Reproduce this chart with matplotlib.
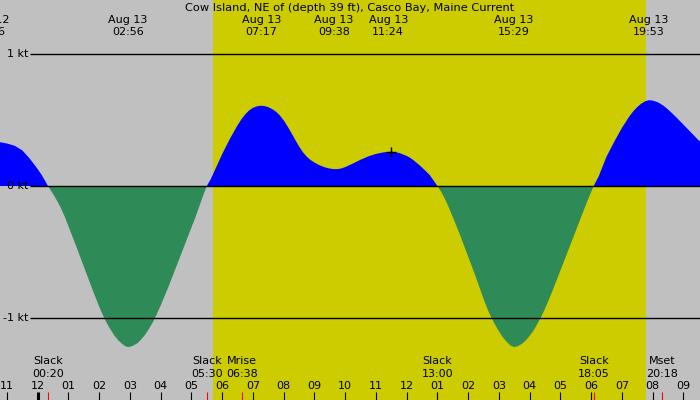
import matplotlib
matplotlib.use("Agg")
import matplotlib.pyplot as plt
import matplotlib.transforms as mtransforms
import numpy as np

# hours after midnight Aug 13, current speed in knots
hours = [-1.3, -1.0, -0.75, -0.5, -0.25, 0.0, 0.125, 0.25, 0.333,
         0.5, 0.625, 0.75, 0.875, 1.0, 1.25, 1.5, 1.75, 2.0, 2.125, 2.25, 2.375,
         2.5, 2.625, 2.75, 2.85, 2.933,
         3.0, 3.1, 3.25, 3.375, 3.5, 3.625, 3.75, 3.875, 4.0, 4.25, 4.5, 4.75,
         5.0, 5.125, 5.25, 5.375, 5.5,
         5.625, 5.75, 5.875, 6.0, 6.25, 6.5, 6.625, 6.75, 6.875, 7.0, 7.125,
         7.25, 7.375, 7.5, 7.625, 7.75, 7.875, 8.0, 8.125, 8.25, 8.375, 8.5,
         8.625, 8.75, 8.875, 9.0, 9.125, 9.25, 9.375, 9.5, 9.625, 9.75, 9.875,
         10.0, 10.25, 10.5, 10.75, 11.0, 11.25, 11.5, 11.75, 12.0, 12.125,
         12.25, 12.375, 12.5, 12.625, 12.75, 12.875, 13.0,
         13.125, 13.25, 13.375, 13.5, 13.75, 14.0, 14.25, 14.5, 14.625, 14.75,
         14.875, 15.0, 15.125, 15.25, 15.375, 15.483,
         15.6, 15.75, 15.875, 16.0, 16.125, 16.25, 16.375, 16.5, 16.75, 17.0,
         17.25, 17.5, 17.75, 17.875, 18.0, 18.083,
         18.25, 18.375, 18.5, 18.75, 19.0, 19.25, 19.375, 19.5, 19.625, 19.75,
         19.883, 20.0, 20.125, 20.25, 20.375, 20.5, 20.75, 21.0, 21.25, 21.5, 21.6]
speed = [0.335, 0.322, 0.305, 0.27, 0.205, 0.128, 0.085, 0.035, 0.0,
         -0.06, -0.11, -0.165, -0.23, -0.305, -0.455, -0.61, -0.765, -0.915, -0.98, -1.04, -1.09,
         -1.135, -1.17, -1.197, -1.214, -1.22,
         -1.218, -1.21, -1.19, -1.16, -1.125, -1.08, -1.03, -0.97, -0.905, -0.765, -0.615, -0.465,
         -0.315, -0.24, -0.158, -0.076, 0.0,
         0.05, 0.113, 0.178, 0.242, 0.357, 0.46, 0.505, 0.543, 0.572, 0.592, 0.603,
         0.608, 0.606, 0.597, 0.583, 0.563, 0.535, 0.498, 0.452, 0.402, 0.35, 0.3,
         0.256, 0.222, 0.197, 0.178, 0.162, 0.149, 0.139, 0.132, 0.128, 0.128, 0.133,
         0.143, 0.17, 0.199, 0.224, 0.243, 0.255, 0.26, 0.251, 0.228, 0.212,
         0.19, 0.166, 0.14, 0.112, 0.083, 0.042, 0.0,
         -0.045, -0.1, -0.165, -0.235, -0.38, -0.535, -0.69, -0.855, -0.93, -0.995,
         -1.05, -1.1, -1.145, -1.18, -1.208, -1.22,
         -1.215, -1.195, -1.17, -1.135, -1.095, -1.045, -0.99, -0.93, -0.79, -0.64,
         -0.49, -0.34, -0.19, -0.115, -0.045, 0.0,
         0.075, 0.15, 0.222, 0.335, 0.44, 0.53, 0.567, 0.598, 0.623, 0.641,
         0.65, 0.647, 0.638, 0.624, 0.604, 0.58, 0.525, 0.465, 0.405, 0.345, 0.325]

title = "Cow Island, NE of (depth 39 ft), Casco Bay, Maine Current"
top_days = ["Aug 12", "Aug 13", "Aug 13", "Aug 13", "Aug 13", "Aug 13", "Aug 13", "Aug 13"]
top_times = ["22:26", "02:56", "07:17", "09:38", "11:24", "15:29", "19:53", "22:10"]
bot_names = ["Slack", "Slack", "Mrise", "Slack", "Slack", "Mset"]
bot_times = ["00:20", "05:30", "06:38", "13:00", "18:05", "20:18"]
sunrise, sunset = "05:43", "19:47"
hour_ticks = list(range(-1, 22))
kt_levels = [1, 0, -1]
marker_pos = (11.5, 0.26)


def to_h(s, day="Aug 13"):
    hh, mm = s.split(":")
    h = int(hh) + int(mm) / 60
    if day == "Aug 12":
        h -= 24
    return h


bg = "#c0c0c0"
day_col = "#cccc00"

fig = plt.figure(figsize=(7, 4), dpi=100, facecolor=bg)
ax = fig.add_axes([0, 0, 1, 1])
ax.set_facecolor(bg)
ax.set_xlim(-1.226, 21.54)
ax.set_ylim(-1.621, 1.409)
ax.axis("off")

ax.axvspan(to_h(sunrise), to_h(sunset), color=day_col, lw=0)

t = np.array(hours)
v = np.array(speed)
ax.fill_between(t, v, 0, where=v >= 0, interpolate=True, color="#0000ff", lw=0)
ax.fill_between(t, v, 0, where=v <= 0, interpolate=True, color="#2e8b57", lw=0)

ax.hlines(kt_levels, -0.25, 22, color="black", lw=1.0)
for k in kt_levels:
    ax.text(-0.30, k, "%d kt" % k, ha="right", va="center", fontsize=8)

ax.plot(*marker_pos, marker="+", color="black", ms=7, mew=1)

tr = mtransforms.blended_transform_factory(ax.transData, ax.transAxes)
ax.text(0.5, 0.98, title, transform=ax.transAxes, ha="center", va="center", fontsize=8.2)
for d, s in zip(top_days, top_times):
    h = to_h(s, d)
    ax.text(h, 0.950, d, transform=tr, ha="center", va="center", fontsize=8)
    ax.text(h, 0.921, s, transform=tr, ha="center", va="center", fontsize=8)

for n, s in zip(bot_names, bot_times):
    h = to_h(s)
    ax.text(h, 0.0975, n, transform=tr, ha="center", va="center", fontsize=8)
    ax.text(h, 0.066, s, transform=tr, ha="center", va="center", fontsize=8)
    ax.vlines(h, 0, 0.02, transform=tr, color="red", lw=0.8)

for h in hour_ticks:
    lab = "%02d" % ((h - 1) % 12 + 1)
    ax.text(h, 0.035, lab, transform=tr, ha="center", va="center", fontsize=8)
    ax.vlines(h, 0, 0.02, transform=tr, color="black", lw=2.2 if h == 0 else 0.8)

fig.savefig("out.png", dpi=100, facecolor=bg)
